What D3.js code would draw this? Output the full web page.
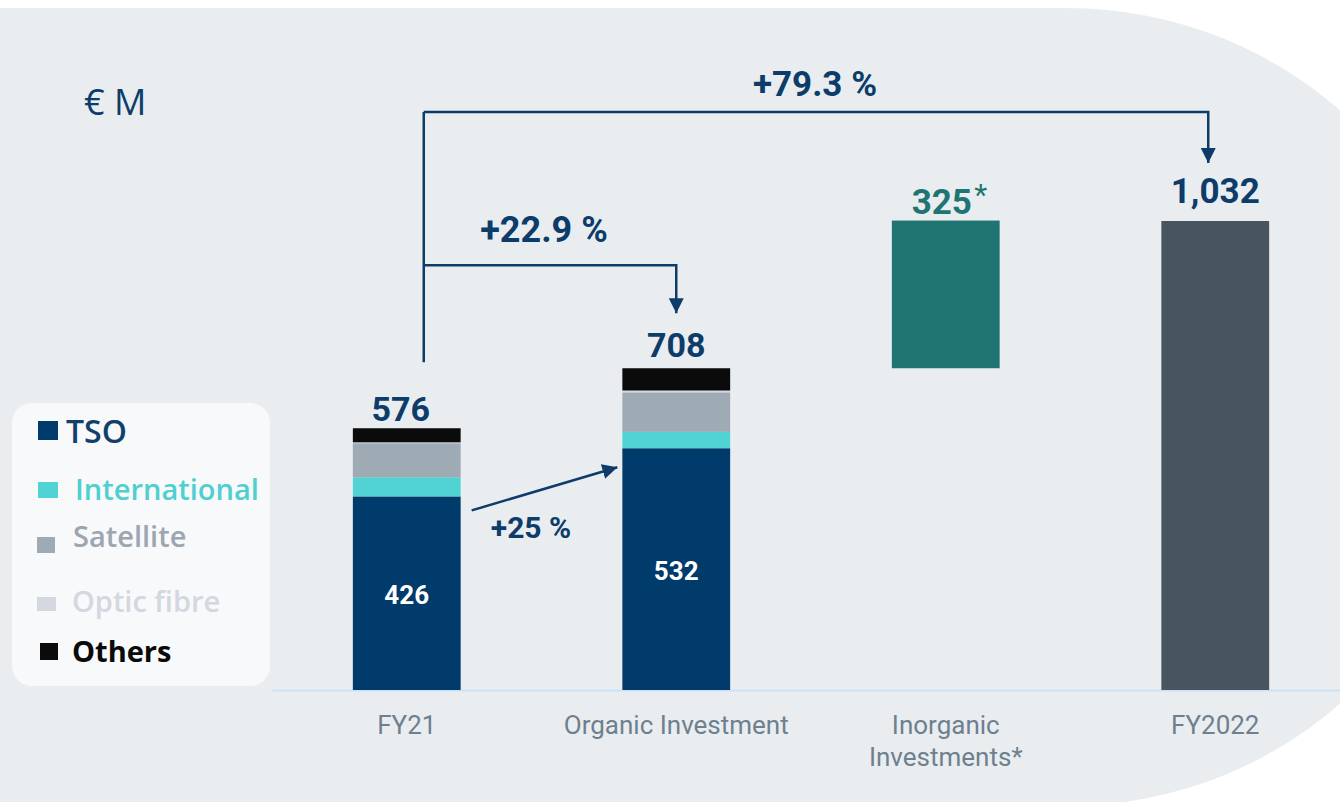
<!DOCTYPE html>
<html>
<head>
<meta charset="utf-8">
<script src="https://cdn.jsdelivr.net/npm/d3@7"></script>
<style>
  html, body { margin: 0; padding: 0; background: #ffffff; }
  svg { display: block; }
</style>
</head>
<body>
<script>
// chart data
var categories = ["FY21", "Organic Investment", "Inorganic Investments*", "FY2022"];
var categoryLines = [["FY21"], ["Organic Investment"], ["Inorganic", "Investments*"], ["FY2022"]];
var segments = ["TSO", "International", "Satellite", "Optic fibre", "Others"];
var fy21Values = [426, 42, 75, 2, 31];
var organicValues = [532, 36, 87, 4, 49];
var inorganicValue = 325;
var fy2022Value = 1032;
var totals = [576, 708, 325, 1032];
var growthLabels = ["+22.9 %", "+79.3 %", "+25 %"];

var segColors = ["#003b6c", "#52d3d3", "#9eaab4", "#d4d8e0", "#0b0b0b"];
var legendTextColors = ["#123f6b", "#4fcfcf", "#9ba6b1", "#d3d7df", "#0a0a0a"];
var dark = "#0d3c6b";

var width = 1340,
    height = 802;

var svg = d3.select("body").append("svg")
    .attr("width", width)
    .attr("height", height);

// background shape
svg.append("rect").attr("width", width).attr("height", height).attr("fill", "#ffffff");
var bg = svg.append("g").attr("fill", "#e9edf0");
bg.append("rect").attr("x", 0).attr("y", 8).attr("width", 1068).attr("height", height - 8);
bg.append("ellipse").attr("cx", 1067).attr("cy", 407).attr("rx", 408).attr("ry", 399);

// scales
var x = d3.scaleBand()
    .domain(categories)
    .range([272, 1350])
    .paddingInner(0.6)
    .paddingOuter(0.3);

var y = d3.scaleLinear()
    .domain([0, fy2022Value])
    .range([690, 221]);

var bw = x.bandwidth();
function cx(c) { return x(c) + bw / 2; }

// x axis
var xAxis = svg.append("g")
    .attr("transform", "translate(0," + y(0) + ")")
    .call(d3.axisBottom(x).tickSize(0).tickFormat(""));
xAxis.select(".domain").attr("stroke", "#cde1f5").attr("stroke-width", 2);

xAxis.selectAll(".tick").each(function(d, i) {
    var t = d3.select(this).append("text")
        .attr("fill", "#6e808f")
        .attr("font-family", "Roboto, sans-serif")
        .attr("font-size", 26)
        .attr("text-anchor", "middle")
        .attr("y", 44);
    categoryLines[i].forEach(function(line, j) {
        t.append("tspan").attr("x", 0).attr("dy", j === 0 ? 0 : 32).text(line);
    });
});

// stacked bars
var g = svg.append("g");
function stackBar(cat, vals) {
    var acc = 0;
    vals.forEach(function(v, i) {
        g.append("rect")
            .attr("x", x(cat))
            .attr("y", y(acc + v))
            .attr("width", bw)
            .attr("height", y(acc) - y(acc + v))
            .attr("fill", segColors[i]);
        acc += v;
    });
}
stackBar(categories[0], fy21Values);
stackBar(categories[1], organicValues);

// floating inorganic bar
g.append("rect")
    .attr("x", x(categories[2]))
    .attr("y", y(totals[1] + inorganicValue))
    .attr("width", bw)
    .attr("height", y(totals[1]) - y(totals[1] + inorganicValue))
    .attr("fill", "#1f7572");

g.append("rect")
    .attr("x", x(categories[3]))
    .attr("y", y(fy2022Value))
    .attr("width", bw)
    .attr("height", y(0) - y(fy2022Value))
    .attr("fill", "#48555f");

// value labels
var labels = svg.append("g")
    .attr("font-family", "Roboto, sans-serif")
    .attr("font-weight", "bold")
    .attr("text-anchor", "middle");

labels.append("text").attr("x", cx(categories[0]) - 6).attr("y", y(totals[0]) - 7)
    .attr("font-size", 34).attr("fill", dark).text(totals[0]);
labels.append("text").attr("x", cx(categories[1])).attr("y", y(totals[1]) - 11)
    .attr("font-size", 34).attr("fill", dark).text(totals[1]);
labels.append("text").attr("x", cx(categories[0])).attr("y", y(fy21Values[0] / 2) + 11)
    .attr("font-size", 26).attr("fill", "#ffffff").text(fy21Values[0]);
labels.append("text").attr("x", cx(categories[1])).attr("y", y(organicValues[0] / 2) + 11)
    .attr("font-size", 26).attr("fill", "#ffffff").text(organicValues[0]);

labels.append("text").attr("x", cx(categories[2]) - 4).attr("y", y(totals[1] + inorganicValue) - 7)
    .attr("font-size", 35).attr("fill", "#1f7572").text(inorganicValue);
labels.append("text").attr("x", cx(categories[2]) + 35).attr("y", y(totals[1] + inorganicValue) - 16)
    .attr("font-size", 30).attr("font-weight", "normal").attr("fill", "#1f7572").text("*");

labels.append("text").attr("x", cx(categories[3])).attr("y", y(fy2022Value) - 18)
    .attr("font-size", 35).attr("fill", dark).text(d3.format(",")(fy2022Value));

// growth brackets
var defs = svg.append("defs");
defs.append("marker")
    .attr("id", "head")
    .attr("viewBox", "0 0 10 10")
    .attr("refX", 10).attr("refY", 5)
    .attr("markerUnits", "userSpaceOnUse")
    .attr("markerWidth", 15).attr("markerHeight", 15)
    .attr("orient", "auto")
  .append("path")
    .attr("d", "M0,0 L10,5 L0,10 z")
    .attr("fill", dark);

var lines = svg.append("g").attr("fill", "none").attr("stroke", dark).attr("stroke-width", 2.5);
var bx = cx(categories[0]) + 17;

lines.append("path")
    .attr("d", "M" + bx + "," + (y(totals[0]) - 66) + "V" + (y(fy2022Value) - 109));
lines.append("path")
    .attr("marker-end", "url(#head)")
    .attr("d", "M" + bx + "," + (y(fy2022Value) - 109) + "H" + (cx(categories[3]) - 7) + "V" + (y(fy2022Value) - 58));
lines.append("path")
    .attr("marker-end", "url(#head)")
    .attr("d", "M" + bx + "," + (y(totals[1]) - 103) + "H" + (cx(categories[1])) + "V" + (y(totals[1]) - 55));
lines.append("path")
    .attr("marker-end", "url(#head)")
    .attr("d", "M" + (x(categories[0]) + bw + 11) + "," + (y(fy21Values[0]) + 14) +
               "L" + (x(categories[1]) - 5) + "," + (y(organicValues[0]) + 19));

labels.append("text").attr("x", 544).attr("y", y(totals[1]) - 126)
    .attr("font-size", 36).attr("fill", dark).text(growthLabels[0]);
labels.append("text").attr("x", 815).attr("y", y(fy2022Value) - 125)
    .attr("font-size", 35).attr("fill", dark).text(growthLabels[1]);
labels.append("text").attr("x", 531).attr("y", y(fy21Values[0]) + 42)
    .attr("font-size", 30).attr("fill", dark).text(growthLabels[2]);

// unit
svg.append("text")
    .attr("x", 84).attr("y", 115)
    .attr("font-family", "'Open Sans', sans-serif")
    .attr("font-size", 36)
    .attr("fill", dark)
    .text("€ M");

// legend
var legend = svg.append("g");
legend.append("rect")
    .attr("x", 12).attr("y", 403)
    .attr("width", 258).attr("height", 283)
    .attr("rx", 20)
    .attr("fill", "#f8f9fa");

var legendSquares = [[38, 421, 20, 19], [38, 482, 20, 16], [37, 537, 18, 16], [37, 597, 19, 14], [40, 643, 18, 17]];
var legendText = [[66, 443], [75, 500], [73, 547], [72, 612], [72, 662]];
var legendSizes = [32, 29, 29, 29, 29];
var legendWeights = [600, 600, 600, 600, 700];

segments.forEach(function(s, i) {
    legend.append("rect")
        .attr("x", legendSquares[i][0]).attr("y", legendSquares[i][1])
        .attr("width", legendSquares[i][2]).attr("height", legendSquares[i][3])
        .attr("fill", segColors[i]);
    legend.append("text")
        .attr("x", legendText[i][0]).attr("y", legendText[i][1])
        .attr("font-family", "'Open Sans', sans-serif")
        .attr("font-weight", legendWeights[i])
        .attr("font-size", legendSizes[i])
        .attr("fill", legendTextColors[i])
        .text(s);
});
</script>
</body>
</html>
